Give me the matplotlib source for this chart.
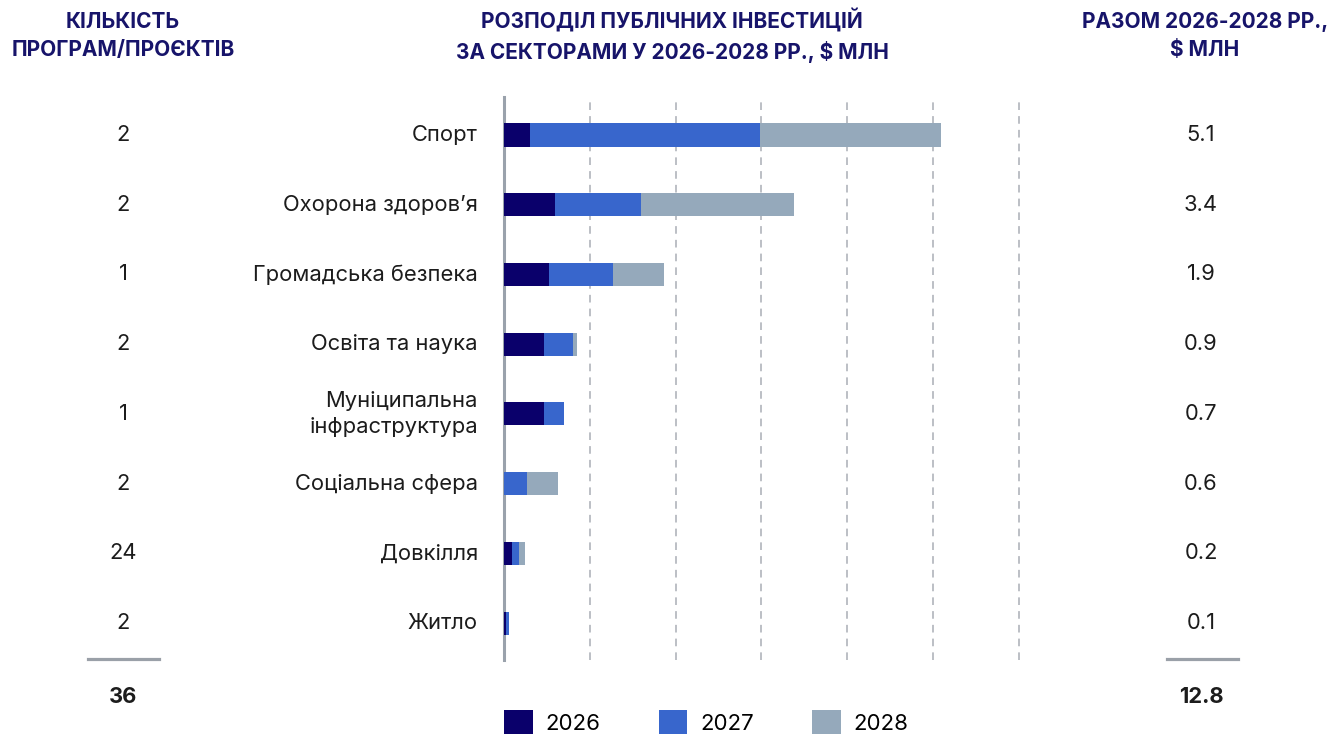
import matplotlib
matplotlib.use("Agg")
import matplotlib.pyplot as plt
import matplotlib.transforms as mtransforms
from matplotlib.patches import Patch
from matplotlib.lines import Line2D

plt.rcParams['font.family'] = ['Inter', 'DejaVu Sans']

categories = ["Спорт", "Охорона здоров’я", "Громадська безпека", "Освіта та наука",
              "Муніципальна\nінфраструктура", "Соціальна сфера", "Довкілля", "Житло"]
v2026 = [0.30, 0.60, 0.52, 0.47, 0.47, 0.00, 0.09, 0.02]
v2027 = [2.69, 1.00, 0.75, 0.33, 0.23, 0.27, 0.08, 0.04]
v2028 = [2.10, 1.78, 0.59, 0.05, 0.00, 0.36, 0.07, 0.00]
counts = ["2", "2", "1", "2", "1", "2", "24", "2"]
totals = ["5.1", "3.4", "1.9", "0.9", "0.7", "0.6", "0.2", "0.1"]
count_total = "36"
sum_total = "12.8"
years = ["2026", "2027", "2028"]
colors = ["#0a006b", "#3866cc", "#95a9bb"]

W, H = 1329, 735
fig = plt.figure(figsize=(W / 100, H / 100), dpi=100)

def fx(px):
    return px / W

def fy(py):
    return 1 - py / H

ax_left, ax_right = 504, 1023
ax_top, ax_bot = 97, 660
ax = fig.add_axes([fx(ax_left), fy(ax_bot), (ax_right - ax_left) / W, (ax_bot - ax_top) / H])

ypos = list(range(len(categories)))
left = [0.0] * len(categories)
for vals, col, yr in zip([v2026, v2027, v2028], colors, years):
    ax.barh(ypos, vals, left=left, height=0.33, color=col, label=yr, zorder=3)
    left = [a + b for a, b in zip(left, vals)]

ax.set_xlim(0, 6.05)
ax.set_ylim(7.53, -0.545)
for gx in range(1, 7):
    ax.axvline(gx, color="#a9adb5", lw=1.1, ls=(0, (5, 4)), zorder=1)
for s in ["top", "right", "bottom"]:
    ax.spines[s].set_visible(False)
ax.spines["left"].set_color("#9aa2ac")
ax.spines["left"].set_linewidth(2.2)
ax.set_xticks([])
ax.set_yticks([])

trans = mtransforms.blended_transform_factory(fig.transFigure, ax.transData)
txt_col = "#1c1c1c"
fs = 15.8
for i, cat in enumerate(categories):
    ax.text(fx(478), i, cat, transform=trans, ha="right", va="center",
            fontsize=fs, color=txt_col, linespacing=1.4)
    ax.text(fx(123), i, counts[i], transform=trans, ha="center", va="center",
            fontsize=fs, color=txt_col)
    ax.text(fx(1201), i, totals[i], transform=trans, ha="center", va="center",
            fontsize=fs, color=txt_col)

head_col = "#17146a"
hfs = 15
fig.text(fx(123), fy(36), "КІЛЬКІСТЬ\nПРОГРАМ/ПРОЄКТІВ", ha="center", va="center",
         fontsize=hfs, fontweight="bold", color=head_col, linespacing=1.45)
fig.text(fx(672), fy(36), "РОЗПОДІЛ ПУБЛІЧНИХ ІНВЕСТИЦІЙ\nЗА СЕКТОРАМИ У 2026-2028 РР., $ МЛН",
         ha="center", va="center", fontsize=hfs, fontweight="bold", color=head_col,
         linespacing=1.45)
fig.text(fx(1205), fy(36), "РАЗОМ 2026-2028 РР.,\n$ МЛН", ha="center", va="center",
         fontsize=hfs, fontweight="bold", color=head_col, linespacing=1.45)

for x0, x1 in [(88, 159), (1167, 1238)]:
    fig.add_artist(Line2D([fx(x0), fx(x1)], [fy(659), fy(659)], transform=fig.transFigure,
                          color="#9aa0a8", lw=2.3))

fig.text(fx(123), fy(697), count_total, ha="center", va="center", fontsize=fs,
         fontweight="bold", color=txt_col)
fig.text(fx(1201), fy(697), sum_total, ha="center", va="center", fontsize=fs,
         fontweight="bold", color=txt_col)

handles = [Patch(facecolor=c, edgecolor="none", label=y) for c, y in zip(colors, years)]
fig.legend(handles=handles, loc="upper left", bbox_to_anchor=(fx(504), fy(710)),
           ncol=3, frameon=False, fontsize=16, handlelength=1.3, handleheight=1.3,
           handletextpad=0.58, columnspacing=2.6, borderpad=0, borderaxespad=0)

fig.savefig("out.png", dpi=100)
